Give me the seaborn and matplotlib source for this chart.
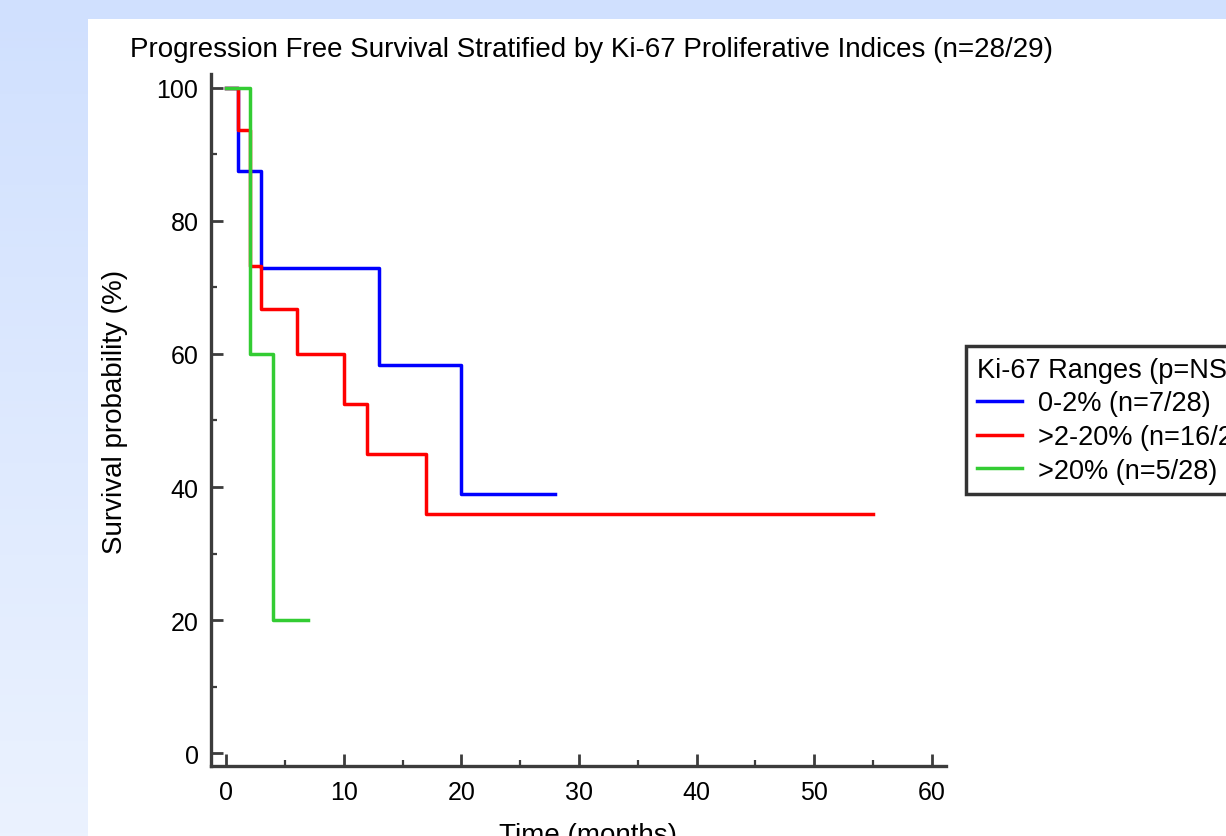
import numpy as np
import pandas as pd
import matplotlib
matplotlib.use("Agg")
import matplotlib.pyplot as plt
from matplotlib.patches import Rectangle
import seaborn as sns

# ---- data ----
title = "Progression Free Survival Stratified by Ki-67 Proliferative Indices (n=28/29)"
groups = ["0-2% (n=7/28)", ">2-20% (n=16/28)", ">20% (n=5/28)"]
colors = ["#0000ff", "#ff0000", "#33cc33"]

blue_t = [0, 1, 3, 13, 20, 28]
blue_s = [100, 87.5, 72.9, 58.3, 38.9, 38.9]
red_t = [0, 1, 2, 3, 6, 10, 12, 17, 55]
red_s = [100, 93.75, 73.3, 66.7, 60.0, 52.5, 45.0, 36.0, 36.0]
green_t = [0, 2, 4, 7]
green_s = [100, 60, 20, 20]

x_ticks = [0, 10, 20, 30, 40, 50, 60]
y_ticks = [0, 20, 40, 60, 80, 100]

df = pd.concat([
    pd.DataFrame({"time": blue_t, "surv": blue_s, "group": groups[0]}),
    pd.DataFrame({"time": red_t, "surv": red_s, "group": groups[1]}),
    pd.DataFrame({"time": green_t, "surv": green_s, "group": groups[2]}),
], ignore_index=True)

plt.rcParams['font.family'] = ['Liberation Sans', 'DejaVu Sans']

W, H = 1226, 837
fig = plt.figure(figsize=(W / 100, H / 100), dpi=100)

# background gradient + white panel
bg = fig.add_axes([0, 0, 1, 1], zorder=-10)
top_c = np.array([208, 224, 254]) / 255
bot_c = np.array([235, 242, 254]) / 255
grad = np.linspace(0, 1, 256)[:, None, None]
img = top_c * (1 - grad) + bot_c * grad
bg.imshow(img, aspect='auto', extent=[0, 1, 0, 1], origin='upper')
bg.add_patch(Rectangle((88 / W, 0), 1, 1 - 20 / H, facecolor='white', edgecolor='none'))
bg.set_xlim(0, 1)
bg.set_ylim(0, 1)
bg.axis('off')

left, right = 211 / W, 946 / W
bottom, top = 1 - 767 / H, 1 - 75 / H
ax = fig.add_axes([left, bottom, right - left, top - bottom])
ax.patch.set_alpha(0)

sns.lineplot(data=df, x="time", y="surv", hue="group", hue_order=groups,
             palette=colors, estimator=None, sort=False, drawstyle="steps-post",
             linewidth=2.5, legend=False, ax=ax)

ax.set_xlim(-1.275, 61.19)
ax.set_ylim(-1.95, 102.1)
ax.set_xticks(x_ticks)
ax.set_xticks([5, 15, 25, 35, 45, 55], minor=True)
ax.set_yticks(y_ticks)
ax.set_yticks([10, 30, 50, 70, 90], minor=True)

spine_c = "#3c3c3c"
for s in ["top", "right"]:
    ax.spines[s].set_visible(False)
for s in ["left", "bottom"]:
    ax.spines[s].set_color(spine_c)
    ax.spines[s].set_linewidth(2.4)
ax.tick_params(which='major', direction='in', length=8.5, width=2.0, color=spine_c,
               labelsize=18, labelcolor='black')
ax.tick_params(axis='x', which='major', pad=10)
ax.tick_params(axis='y', which='major', pad=9)
ax.tick_params(which='minor', direction='in', length=4.5, width=1.6, color=spine_c)

ax.set_xlabel("Time (months)", fontsize=20)
ax.set_ylabel("Survival probability (%)", fontsize=20)
ax.xaxis.set_label_coords(0.513, -0.081)
ax.yaxis.set_label_coords(-0.113, 0.513)

fig.text(130 / W, 1 - 50 / H, title, fontsize=20, ha='left', va='center')

leg = ax.legend(handles=ax.lines[:3], labels=groups, title="Ki-67 Ranges (p=NS)",
                loc='upper left', bbox_to_anchor=(966 / W, 1 - 347 / H),
                bbox_transform=fig.transFigure, borderaxespad=0,
                fontsize=19.5, title_fontsize=19.5, alignment='left',
                frameon=True, fancybox=False, framealpha=1,
                handlelength=1.65, handletextpad=0.6, labelspacing=0.28,
                borderpad=0.4)
leg.get_frame().set_edgecolor("#333333")
leg.get_frame().set_linewidth(2.5)

fig.savefig("out.png", dpi=100)
